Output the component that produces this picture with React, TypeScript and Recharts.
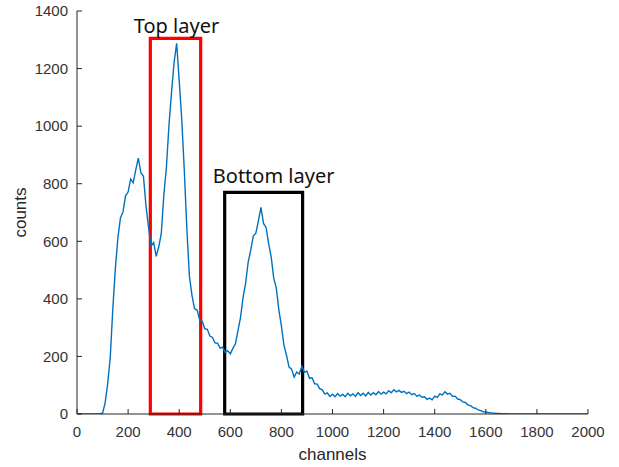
import * as React from "react"
import { LineChart, Line, XAxis, YAxis, ReferenceArea } from "recharts"

// spectrum sampled every 10 channels, starting at channel 0
const CHANNEL_STEP = 10
const counts = [
  0, 0, 0, 0, 0, 0, 0, 0, 0, 1,
  3, 38, 105, 195, 362, 505, 612, 681, 702, 758,
  771, 816, 803, 848, 889, 838, 826, 724, 648, 583,
  596, 548, 581, 628, 762, 858, 1004, 1118, 1221, 1288,
  1158, 1024, 846, 642, 478, 412, 366, 361, 328, 322,
  296, 294, 271, 266, 247, 246, 229, 232, 214, 220,
  209, 228, 244, 290, 336, 405, 455, 528, 569, 618,
  628, 671, 718, 662, 648, 592, 546, 472, 438, 362,
  306, 238, 204, 163, 156, 128, 146, 139, 166, 145,
  149, 124, 126, 105, 104, 88, 84, 69, 73, 61,
  69, 60, 71, 62, 68, 60, 72, 63, 70, 61,
  74, 64, 72, 63, 75, 66, 74, 67, 78, 69,
  76, 70, 81, 74, 84, 77, 82, 75, 79, 71,
  76, 67, 71, 62, 66, 58, 60, 51, 55, 49,
  62, 58, 70, 66, 77, 69, 72, 61, 62, 52,
  50, 42, 40, 32, 29, 22, 20, 14, 12, 8,
  7, 5, 4, 3, 2, 2, 1, 1, 1, 0,
  0, 0, 0, 0, 0, 0, 0, 0, 0, 0,
  0, 0, 0, 0, 0, 0, 0, 0, 0, 0,
  0, 0, 0, 0, 0, 0, 0, 0, 0, 0,
  0,
]

const xTicks = [0, 200, 400, 600, 800, 1000, 1200, 1400, 1600, 1800, 2000]
const yTicks = [0, 200, 400, 600, 800, 1000, 1200, 1400]

const boxLabels = ["Top layer", "Bottom layer"]
const boxChannels = [
  [287, 484],
  [578, 883],
]
const boxTops = [1305, 770]
const boxColors = ["#ff0000", "#000000"]

const axisColor = "#262626"
const tickStyle = { fontSize: 15, fill: "#333", fontFamily: "Liberation Sans, Arial, sans-serif" }

const data = counts.map((c, i) => ({ ch: i * CHANNEL_STEP, counts: c }))

function BoxLabel({ viewBox, text, shift, gap }: any) {
  if (!viewBox) return null
  return (
    <text
      x={viewBox.x + viewBox.width / 2 + shift}
      y={viewBox.y - gap}
      textAnchor="middle"
      fontSize={20}
      fontFamily="Noto Sans, sans-serif"
      fill="#111"
    >
      {text}
    </text>
  )
}

export default function App() {
  return (
    <div style={{ position: "absolute", left: 0, top: 0, width: 619, height: 467, background: "#fff" }}>
      <LineChart width={619} height={467} data={data} margin={{ top: 11, right: 31, bottom: 0, left: 0 }}>
        <XAxis
          dataKey="ch"
          type="number"
          domain={[0, 2000]}
          ticks={xTicks}
          height={53}
          tickSize={-5}
          tickMargin={17}
          tick={tickStyle}
          stroke={axisColor}
          allowDataOverflow
          label={{ value: "channels", position: "insideBottom", offset: 7, fontSize: 17, fill: axisColor, fontFamily: "Liberation Sans, Arial, sans-serif" }}
        />
        <XAxis
          xAxisId="top"
          orientation="top"
          dataKey="ch"
          type="number"
          domain={[0, 2000]}
          ticks={xTicks}
          height={0}
          tickSize={-5}
          tickFormatter={() => ""}
          stroke={axisColor}
        />
        <YAxis
          type="number"
          domain={[0, 1400]}
          ticks={yTicks}
          width={77}
          tickSize={-5}
          tickMargin={14}
          tick={tickStyle}
          stroke={axisColor}
          allowDataOverflow
          label={{
            value: "counts",
            angle: -90,
            position: "insideLeft",
            offset: 20,
            fontSize: 17,
            fill: axisColor,
            fontFamily: "Liberation Sans, Arial, sans-serif",
            style: { textAnchor: "middle" },
          }}
        />
        <YAxis
          yAxisId="right"
          orientation="right"
          type="number"
          domain={[0, 1400]}
          ticks={yTicks}
          width={0}
          tickSize={-5}
          tickFormatter={() => ""}
          stroke={axisColor}
        />
        <Line
          type="linear"
          dataKey="counts"
          stroke="#0072bd"
          strokeWidth={1.4}
          dot={false}
          isAnimationActive={false}
        />
        {boxLabels.map((lbl, i) => (
          <ReferenceArea
            key={lbl}
            x1={boxChannels[i][0]}
            x2={boxChannels[i][1]}
            y1={0}
            y2={boxTops[i]}
            fill="none"
            fillOpacity={0}
            stroke={boxColors[i]}
            strokeWidth={3.2}
            ifOverflow="visible"
            label={<BoxLabel text={lbl} shift={i === 0 ? 1 : 10} gap={i === 0 ? 5 : 9} />}
          />
        ))}
      </LineChart>
    </div>
  )
}
